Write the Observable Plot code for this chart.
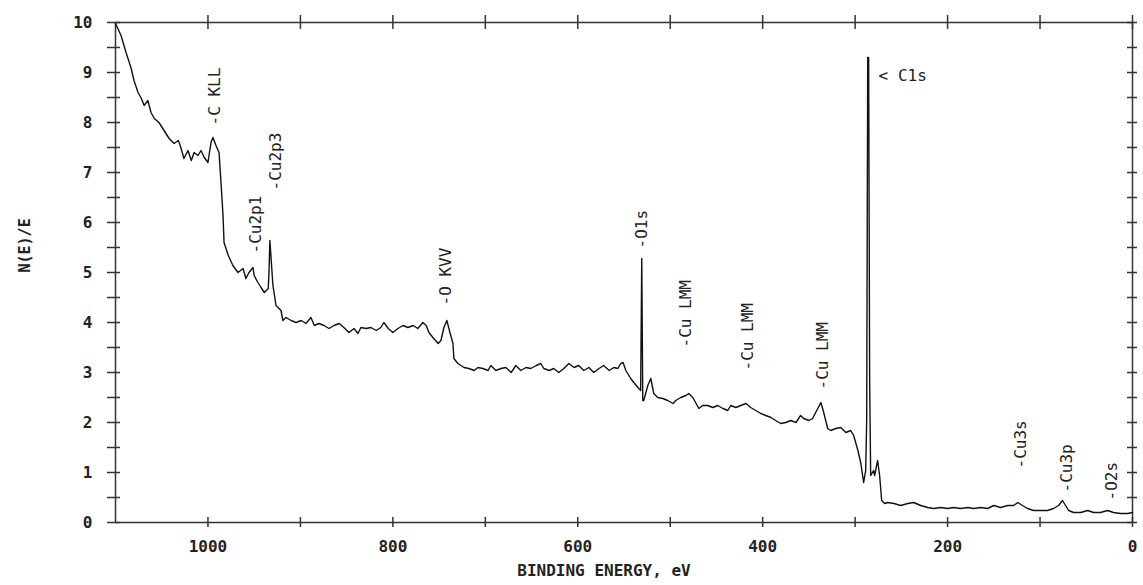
<!DOCTYPE html>
<html><head><meta charset="utf-8">
<script src="https://cdn.jsdelivr.net/npm/d3@7"></script>
<script src="https://cdn.jsdelivr.net/npm/@observablehq/plot@0.6"></script>
<style>html,body{margin:0;padding:0;background:#fff}svg{display:block}</style>
</head><body><div id="chart"></div>
<script>
// Binding energy (eV) and N(E)/E
const energy = [1100,1094,1088.6,1083,1080,1075.6,1072,1069,1065,1061.6,1058,1053,1047.5,1042,1036.7,1032,1029,1026,1021.6,1018,1015,1010.8,1007.5,1004,1000,996.7,994.6,991.3,988,985.9,983.7,982.6,978,973,967.5,962,959,955.6,951.3,950,946,942.6,939,934.8,934,933,930.7,929.7,926.4,921,919,915.6,910,904.8,899,894,888.6,885,880,874.5,869,863.7,858,853,847.5,842,837.8,834.5,829,823.7,818,813,809.7,805,800,794.5,789,783.7,778,773,767.5,764,761,756.7,751,748,744.8,741.6,738,735,734,729.7,723,717.8,712,708,702.7,697,694,688.6,683,677.8,672,667,661.6,656,650.8,645,640,636.7,631,626,620.5,615,609.7,604,599,593.5,588,582.7,577,572,566,561,556.7,553.5,551,548,542.7,539.4,534,532,530.8,529.7,528.6,524.3,521,517.8,513.5,508,502.7,497,494,488.6,483,480,475.6,472,469,465,459.4,454,448.6,443,437.8,434.6,429,423.7,418,413,407.5,402,396.7,391,386,380.5,375,369.7,364,359,355.6,350,346,342.7,337,334,329.7,326.5,321,315.6,310,304.8,301.6,297,294,290.8,288.6,287.5,286.4,285.4,284.3,283.2,280,278.9,275.7,273.5,271.3,268,265,258,250.8,243,236.7,229,221.6,215,207.5,200,193.5,186,178,172,164,156.7,150,142.7,135,128.6,124,119,113.5,107,99.5,92,85.4,80,75.7,72.4,69,63.8,56,48.6,42,34.6,27,20.5,13,5.4,0];
const intensity = [9.98,9.74,9.40,9.08,8.84,8.60,8.48,8.34,8.44,8.20,8.08,8.00,7.84,7.68,7.58,7.64,7.48,7.28,7.44,7.24,7.40,7.34,7.44,7.30,7.20,7.60,7.70,7.54,7.40,6.80,6.14,5.60,5.34,5.14,5.00,5.08,4.88,5.00,5.10,4.94,4.80,4.70,4.60,4.68,5.00,5.64,5.00,4.74,4.34,4.24,4.04,4.10,4.04,4.00,4.04,3.98,4.10,3.94,3.98,3.94,3.88,3.94,3.98,3.90,3.80,3.88,3.78,3.90,3.88,3.90,3.84,3.90,4.00,3.88,3.80,3.88,3.94,3.90,3.94,3.88,4.00,3.94,3.80,3.70,3.58,3.64,3.90,4.04,3.78,3.58,3.28,3.18,3.10,3.08,3.04,3.10,3.08,3.04,3.14,3.04,3.08,3.10,3.00,3.14,3.04,3.10,3.08,3.14,3.18,3.08,3.04,3.08,3.00,3.08,3.18,3.10,3.14,3.04,3.10,3.00,3.08,3.14,3.04,3.10,3.08,3.18,3.20,3.04,2.88,2.80,2.68,2.64,5.28,2.44,2.44,2.74,2.88,2.58,2.50,2.48,2.44,2.38,2.44,2.50,2.54,2.58,2.50,2.38,2.28,2.34,2.34,2.30,2.34,2.28,2.24,2.34,2.30,2.34,2.38,2.30,2.24,2.18,2.14,2.10,2.04,1.98,2.00,2.04,2.00,2.14,2.08,2.04,2.08,2.20,2.40,2.20,1.88,1.84,1.88,1.90,1.80,1.84,1.74,1.44,1.20,0.80,1.04,2.04,9.30,9.30,2.84,0.94,1.04,0.94,1.24,0.94,0.44,0.38,0.40,0.38,0.34,0.38,0.40,0.34,0.30,0.28,0.30,0.28,0.30,0.28,0.30,0.28,0.30,0.28,0.34,0.30,0.34,0.34,0.40,0.34,0.28,0.24,0.24,0.24,0.28,0.34,0.44,0.34,0.24,0.20,0.20,0.24,0.20,0.20,0.24,0.20,0.18,0.18,0.20];

// Peak annotations (vertical labels): text, energy, level where the label starts
const peakLabels = ["-C KLL","-Cu2p3","-Cu2p1","-O KVV","-O1s","-Cu LMM","-Cu LMM","-Cu LMM","-Cu3s","-Cu3p","-O2s"];
const peakEnergy = [993,926,948.6,742.6,530.8,483.2,415.9,335.4,121,71.3,22.7];
const peakLevel  = [7.94,6.64,5.38,4.34,5.48,3.5,3.04,2.66,1.08,0.6,0.44];
// Horizontal label next to the C1s peak
const c1sLabel = ["< C1s"];
const c1sEnergy = [274.6];
const c1sLevel = [8.94];

const xTickValues = [1000,900,800,700,600,500,400,300,200,100,0];
const xLabelValues = [1000,800,600,400,200,0];
const yTickValues = [0,0.5,1,1.5,2,2.5,3,3.5,4,4.5,5,5.5,6,6.5,7,7.5,8,8.5,9,9.5,10];
const yLabelValues = [0,1,2,3,4,5,6,7,8,9,10];
const xTitle = "BINDING ENERGY, eV";
const yTitle = "N(E)/E";

const spectrum = energy.map((e, i) => ({e, v: intensity[i]}));
const peaks = peakLabels.map((t, i) => ({t, e: peakEnergy[i], v: peakLevel[i]}));
const c1s = c1sLabel.map((t, i) => ({t, e: c1sEnergy[i], v: c1sLevel[i]}));

const ink = "#222";
const chart = Plot.plot({
  width: 1143, height: 585,
  marginLeft: 115, marginRight: 11, marginTop: 22, marginBottom: 63,
  style: {fontFamily: "'DejaVu Sans Mono', monospace", fontSize: "16px", color: ink, background: "#fff"},
  x: {domain: [1100, 0]},
  y: {domain: [0, 10]},
  marks: [
    Plot.frame({stroke: "#333", strokeWidth: 1.5}),
    Plot.tickX(xTickValues, {x: d => d, insetTop: 495, insetBottom: -5, stroke: "#333", strokeWidth: 1.5}),
    Plot.tickX(xTickValues, {x: d => d, insetTop: -7, insetBottom: 493, stroke: "#333", strokeWidth: 1.5}),
    Plot.tickY(yTickValues, {y: d => d, insetLeft: -8, insetRight: 1012, stroke: "#333", strokeWidth: 1.5}),
    Plot.tickY(yTickValues, {y: d => d, insetLeft: 1012, insetRight: -5, stroke: "#333", strokeWidth: 1.5}),
    Plot.axisX(xLabelValues, {tickSize: 0, tickPadding: 18, tickFormat: d => String(d), label: null, fontSize: 16, fontWeight: "bold"}),
    Plot.axisY(yLabelValues, {tickSize: 0, tickPadding: 23, tickFormat: d => String(d), label: null, fontSize: 16, fontWeight: "bold"}),
    Plot.line(spectrum, {x: "e", y: "v", stroke: "#111", strokeWidth: 1.4}),
    Plot.text(peaks, {x: "e", y: "v", text: "t", rotate: -90, textAnchor: "start", lineAnchor: "middle", fontSize: 16, fill: ink}),
    Plot.text(c1s, {x: "e", y: "v", text: "t", textAnchor: "start", lineAnchor: "middle", fontSize: 16, fill: ink}),
    Plot.text([yTitle], {frameAnchor: "left", dx: -90, rotate: -90, fontSize: 15, fontWeight: "bold", fill: ink}),
    Plot.text([xTitle], {frameAnchor: "bottom", dx: -20, dy: 53, fontSize: 16, fontWeight: "bold", fill: ink})
  ]
});
document.getElementById("chart").append(chart);
</script>
</body></html>
